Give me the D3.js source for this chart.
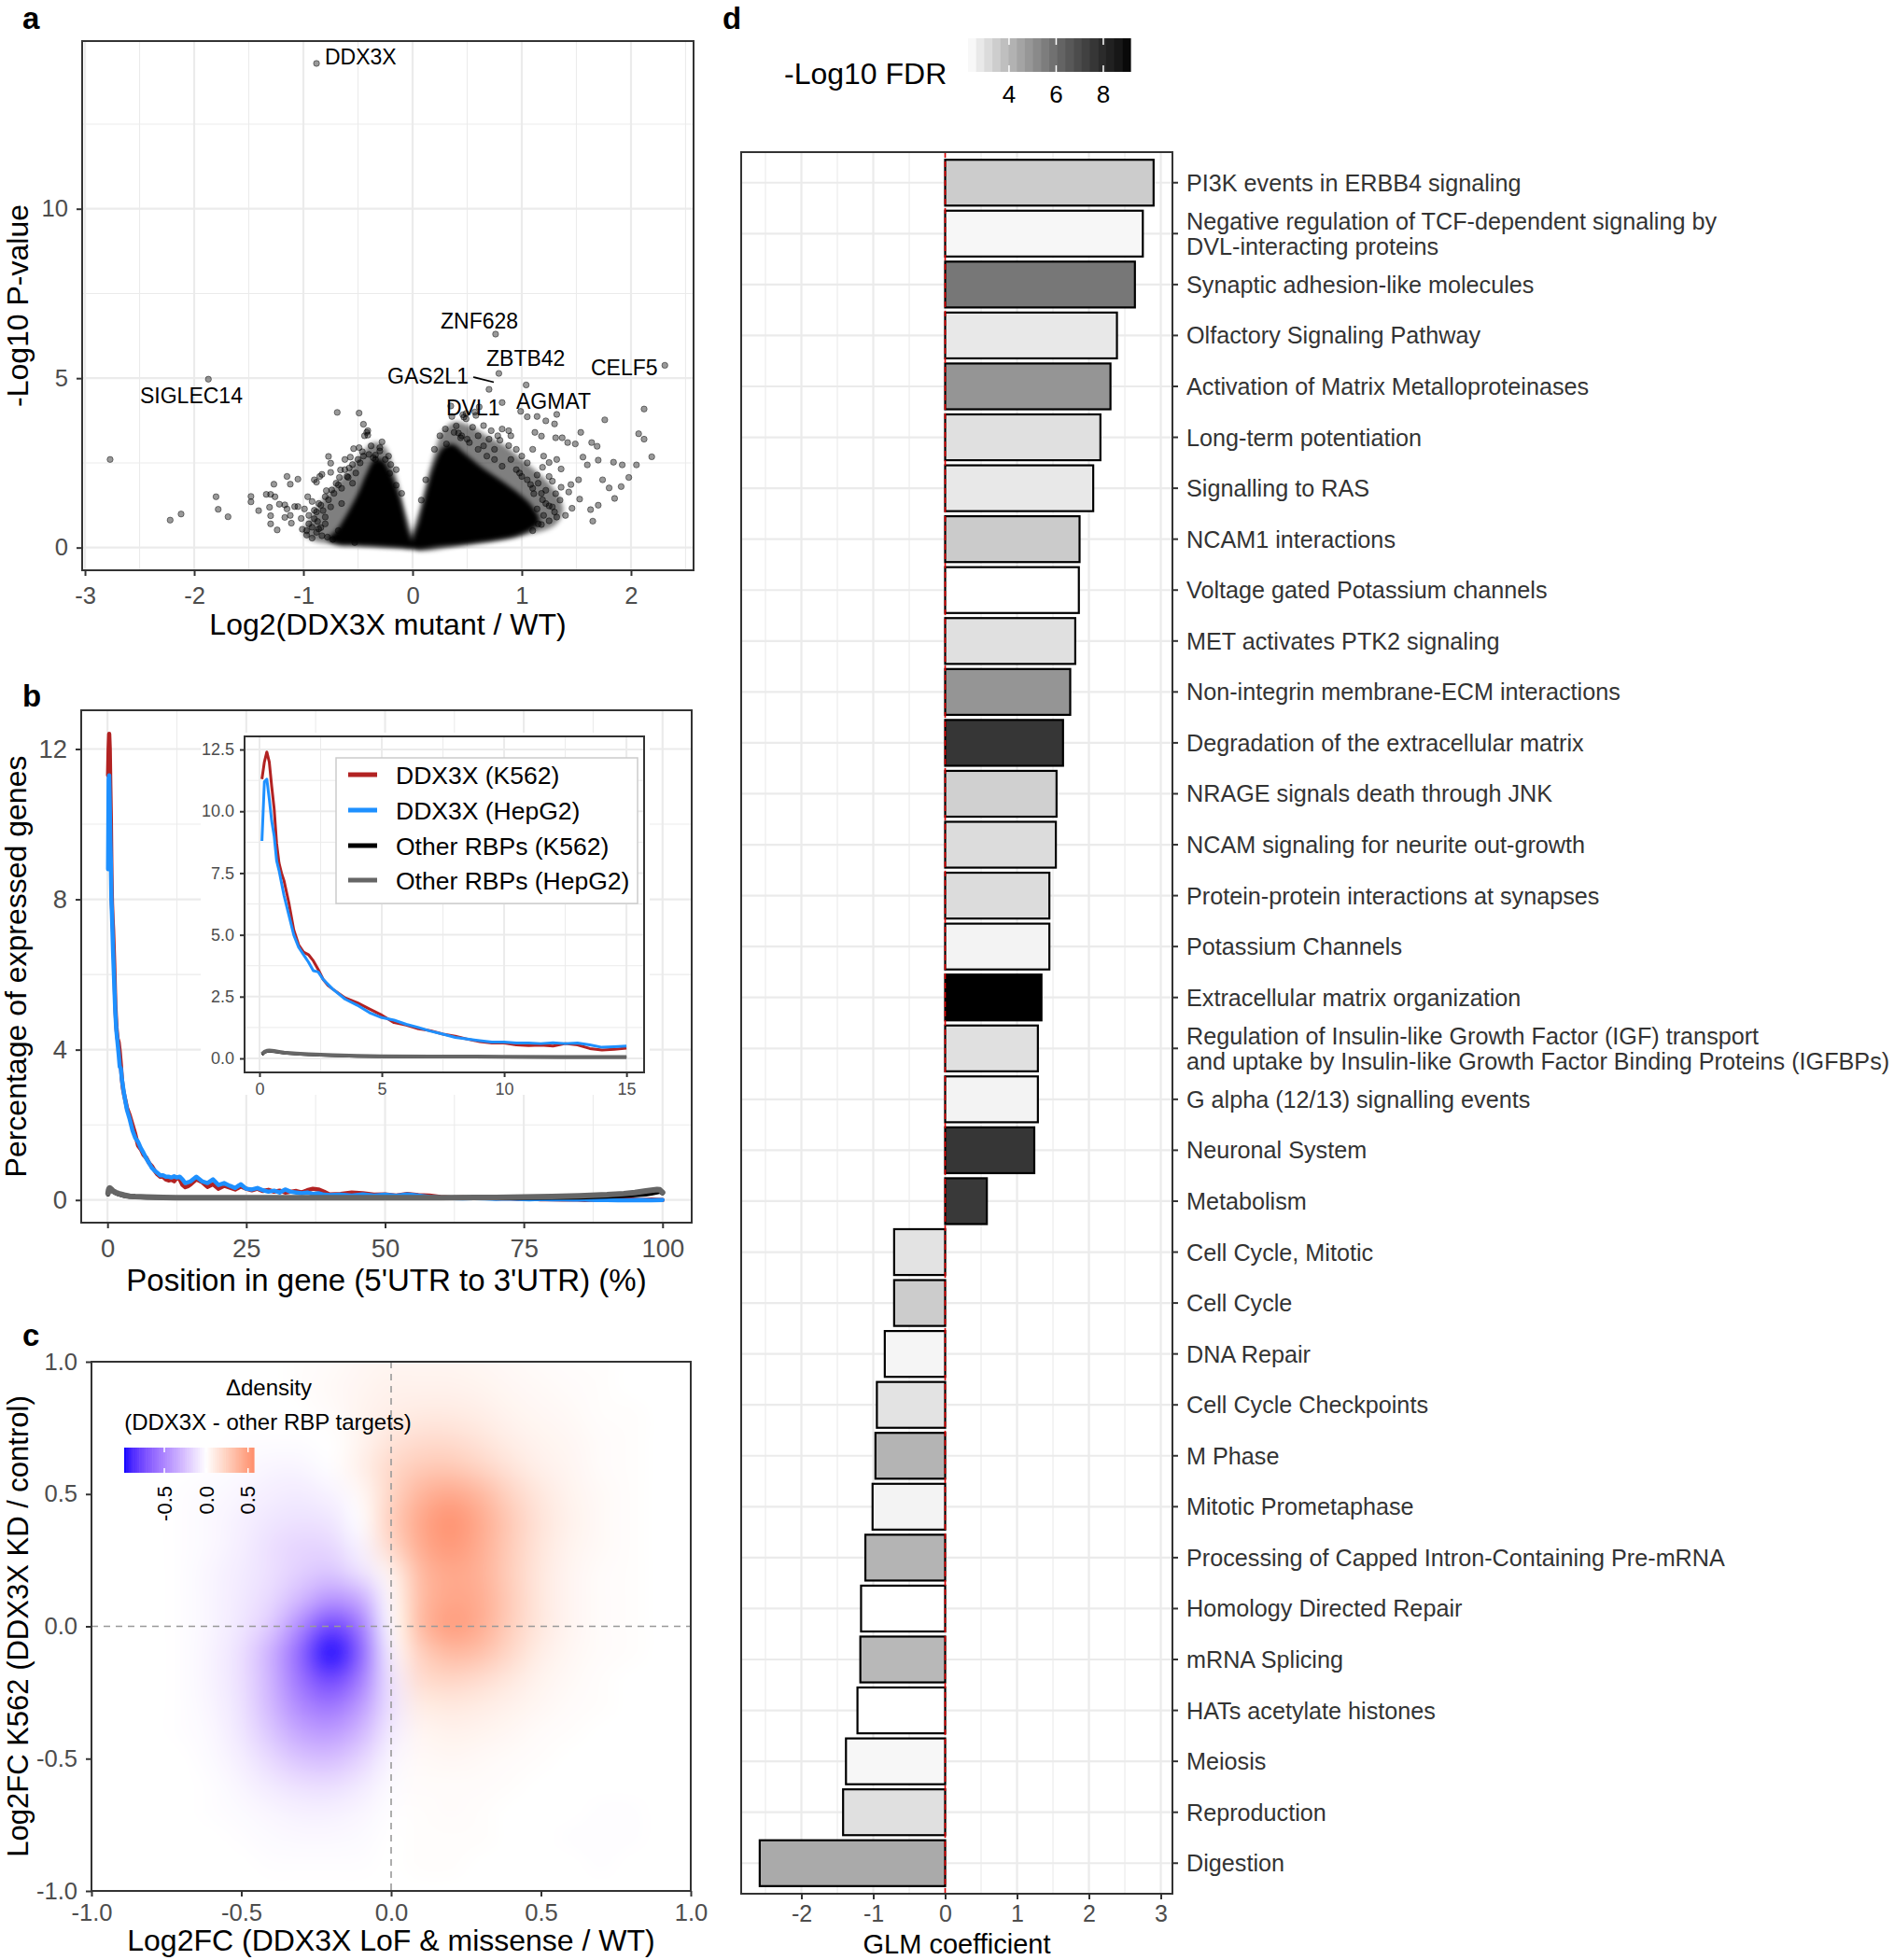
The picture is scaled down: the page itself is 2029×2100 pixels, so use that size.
<!DOCTYPE html>
<html><head><meta charset="utf-8">
<script src="https://cdn.jsdelivr.net/npm/d3@7/dist/d3.min.js"></script>
<style>
html,body{margin:0;padding:0;background:#fff;}
svg text{font-family:"Liberation Sans",Arial,Helvetica,sans-serif;}
</style></head><body>
<svg id="fig" width="2029" height="2100" xmlns="http://www.w3.org/2000/svg"></svg>
<script>
// ======================= DATA =======================
// ---- Panel a: volcano ----
const volcanoLabels = ["DDX3X","SIGLEC14","ZNF628","ZBTB42","GAS2L1","DVL1","AGMAT","CELF5"];
const volcanoLabelFC = [-0.88,-1.87,0.76,0.79,0.70,0.82,1.04,2.31];
const volcanoLabelP = [14.29,4.97,6.30,5.14,4.67,4.28,4.80,5.38];
const volcanoPoints = [
[-2.77,2.60],[-2.22,0.81],[-2.12,0.99],[-1.80,1.50],[-1.78,1.13],[-1.69,0.91],[-1.48,1.51],[-1.48,1.35],
[-1.41,1.09],[-1.34,1.57],[-1.30,1.57],[-1.26,1.50],[-1.27,1.87],[-1.31,1.19],[-1.30,0.94],[-1.30,0.70],
[-1.24,0.52],[-1.15,2.10],[-1.05,2.02],[-1.12,1.87],[-1.22,1.28],[-1.17,1.26],[-1.15,1.14],[-1.12,0.95],
[-1.17,0.89],[-1.11,0.72],[-1.08,1.21],[-1.05,1.21],[-1.02,0.86],[-1.01,0.54],[-0.99,1.14],[-0.96,1.50],
[-0.92,1.36],[-0.97,0.37],[-0.92,0.28],[-0.90,2.00],[-0.88,1.93],[-0.85,2.10],[-0.83,2.16],[-0.77,2.69],
[-0.75,2.49],[-0.75,2.22],[-0.69,3.99],[-0.49,3.97],[-0.45,3.64],[-0.44,3.30],[-0.42,3.40],[-0.41,3.32],
[-0.41,3.45],[-0.28,3.12],[-0.54,2.92],[-0.49,2.95],[-0.46,2.83],[-0.62,2.60],[-0.57,2.67],[-0.66,2.29],
[-0.67,2.07],[-0.59,2.07],[-0.79,1.68],[-0.77,1.41],[-0.82,1.09],[-0.87,0.77],[-0.84,0.59],[-0.78,0.31],
[-0.73,0.24],[-0.53,0.15],[-0.34,2.60],[-0.34,2.73],[-0.36,2.65],[-0.21,2.19],[-0.15,1.84],
[-0.95,0.95],[-0.90,1.10],[-0.86,1.30],[-0.80,0.90],[-0.75,1.20],[-0.72,1.60],[-0.70,1.90],[-0.65,1.75],
[-0.62,2.30],[-0.55,2.45],[-0.52,2.20],[-0.48,2.50],[-0.40,2.75],[-0.30,2.85],[-0.25,2.60],[-0.20,2.45],
[-0.92,0.60],[-0.88,0.45],[-0.83,0.35],[-0.68,0.50],
[-0.30,2.95],[-0.38,3.00],[-0.45,2.70],[-0.50,2.60],[-0.58,2.35],[-0.60,2.10],[-0.68,1.85],[-0.74,1.70],
[-0.80,1.50],[-0.84,1.25],[-0.88,1.05],[-0.90,0.85],[-0.95,0.70],[-0.97,0.50],[-0.86,0.55],[-0.80,0.70],
[-0.65,1.30],[-0.55,1.90],[-0.22,2.70],[-0.15,2.30],[-0.10,1.60],
[0.35,4.18],[0.47,3.85],[0.49,3.80],[0.46,3.92],[0.57,4.00],[0.58,3.90],[0.40,3.59],[0.42,3.38],
[0.44,3.24],[0.31,3.06],[0.99,4.02],[1.05,3.86],[1.14,3.87],[1.22,3.74],[1.30,3.65],[1.32,3.93],
[0.82,3.50],[0.88,3.45],[0.90,3.30],[0.80,3.17],[0.88,3.01],[1.12,3.40],[1.18,3.29],[1.31,3.24],
[1.37,3.24],[1.42,3.10],[1.49,3.06],[1.54,3.40],[1.64,3.10],[1.69,2.99],[1.76,3.77],[1.56,2.67],
[1.60,2.44],[1.70,2.58],[1.84,2.52],[1.92,2.44],[2.05,2.44],[1.98,2.07],[1.91,1.80],[1.80,1.76],
[1.74,2.00],[1.85,1.45],[1.65,0.78],[1.63,1.12],[1.70,1.25],[1.53,1.43],[1.46,1.16],[1.25,0.79],
[1.18,0.68],[2.12,4.09],[2.07,3.36],[2.12,3.20],[2.19,2.68],[1.32,2.60],[1.25,2.51],[1.19,2.37],
[1.14,2.14],[1.08,1.86],[1.11,1.59],[1.19,1.41],[1.25,1.23],[1.31,1.59],[1.36,1.78],[1.43,1.64],
[1.45,1.86],[1.52,2.00],[1.36,2.32],[1.28,1.96],[1.22,1.69],[1.14,1.14],[1.05,0.95],[0.99,0.86],
[0.36,3.87],[0.49,3.96],[0.61,4.15],
[0.50,3.20],[0.60,3.30],[0.65,3.00],[0.70,3.20],[0.75,2.90],[0.95,2.90],[1.00,2.70],[1.05,2.50],
[0.95,2.30],[1.00,2.10],[0.55,3.55],[0.65,3.60],[0.72,3.45],[0.78,3.30],[1.10,2.90],[1.20,2.70],
[1.15,1.90],[1.25,2.10],[1.35,1.40],[1.30,1.05],[1.40,0.95],[1.20,0.95],
[0.20,2.90],[0.25,3.30],[0.30,3.50],[0.38,3.40],[0.45,3.30],[0.52,3.10],[0.60,2.90],[0.68,2.70],
[0.75,2.60],[0.82,2.40],[0.90,2.60],[0.98,2.20],[1.05,2.00],[1.10,1.75],[1.18,1.60],[1.22,1.30],
[1.28,1.20],[1.32,0.90],[1.15,0.70],[1.10,0.50],[0.12,2.00],[0.08,1.40]
];
// dense (saturated) parts of the point cloud, read as outlines
const denseLeftCore = [[0,0],[-0.05,0.6],[-0.12,1.5],[-0.2,2.2],[-0.28,2.6],[-0.35,2.6],[-0.42,2.2],[-0.5,1.6],[-0.6,1.0],[-0.7,0.5],[-0.78,0.25],[-0.7,0.1],[-0.4,0.05],[-0.1,0.0]];
const denseLeftHalo = [[0,0],[-0.08,1.2],[-0.17,2.3],[-0.26,3.0],[-0.36,3.1],[-0.46,2.8],[-0.58,2.3],[-0.72,1.8],[-0.85,1.3],[-0.95,0.8],[-1.0,0.45],[-0.92,0.22],[-0.5,0.07],[-0.1,0]];
const denseRightCore = [[0,0],[0.06,0.8],[0.13,1.7],[0.2,2.45],[0.28,2.95],[0.37,3.05],[0.47,2.8],[0.62,2.4],[0.8,2.0],[0.97,1.6],[1.1,1.2],[1.16,0.75],[1.0,0.4],[0.6,0.15],[0.25,0.03]];
const denseRightHalo = [[0,0],[0.08,1.3],[0.18,2.6],[0.27,3.4],[0.38,3.7],[0.52,3.6],[0.68,3.3],[0.85,3.0],[1.0,2.6],[1.15,2.2],[1.3,1.7],[1.38,1.1],[1.3,0.65],[1.0,0.35],[0.5,0.1]];
const volcanoXTicks = [-3,-2,-1,0,1,2];
const volcanoYTicks = [0,5,10];

// ---- Panel b: metagene profiles ----
const posX = [0.1,0.2,0.3,0.4,0.5,0.6,0.7,0.8,0.9,1.0,1.2,1.4,1.6,1.8,2.0,2.2,2.4,2.6,2.8,3.0,
3.5,4.0,4.5,5.0,5.5,6.0,6.5,7.0,7.5,8.0,8.5,9.0,9.5,10,10.5,11,11.5,12,12.5,13,13.5,14,14.5,15,
16,17,18,19,20,21,22,23,24,25,26,27,28,29,30,31,32,33,34,35,36,37,38,39,40,
42,44,46,48,50,52,54,56,58,60,62,64,66,68,70,72,74,76,78,80,82,84,86,88,90,92,94,96,98,100];
const ddx3xK562 = [11.3,12.0,12.4,12.0,11.0,10.1,8.7,7.9,7.5,7.2,
6.3,5.2,4.6,4.3,4.2,3.95,3.6,3.2,2.95,2.8,
2.45,2.25,2.0,1.75,1.45,1.35,1.2,1.12,0.98,0.9,0.78,0.68,0.62,0.62,0.55,0.52,0.54,0.5,0.6,0.55,0.4,0.34,0.37,0.42,
0.55,0.48,0.35,0.42,0.3,0.38,0.33,0.28,0.36,0.3,0.26,0.3,0.24,0.27,0.22,0.25,0.2,0.22,0.24,0.2,0.26,0.3,0.28,0.22,0.15,
0.16,0.2,0.18,0.14,0.15,0.12,0.16,0.13,0.12,0.08,0.06,0.07,0.05,0.06,0.04,0.05,0.03,0.04,0.02,0.02,0.01,0.02,0.0,0.01,0.0,0.01,0.02,0.0,0.01,0.0];
const ddx3xHepG2 = [8.8,11.2,11.3,10.5,9.6,9.0,8.0,7.6,7.1,6.6,
5.8,5.0,4.5,4.2,3.9,3.55,3.5,3.2,3.0,2.8,
2.4,2.15,1.85,1.65,1.55,1.38,1.25,1.1,0.98,0.85,0.78,0.72,0.66,0.66,0.62,0.62,0.6,0.63,0.6,0.62,0.55,0.45,0.47,0.5,
0.62,0.5,0.45,0.55,0.4,0.45,0.38,0.32,0.42,0.3,0.28,0.32,0.26,0.22,0.25,0.2,0.28,0.22,0.2,0.18,0.2,0.16,0.18,0.14,0.13,
0.14,0.12,0.15,0.12,0.14,0.11,0.15,0.12,0.08,0.06,0.05,0.04,0.05,0.04,0.03,0.04,0.03,0.02,0.03,0.02,0.02,0.01,0.01,0.0,0.0,-0.01,-0.01,0.0,-0.01,0.0];
const rbpX = [0.1,0.2,0.3,0.4,0.6,0.8,1.0,1.5,2,3,4,5,7,10,12.5,15,20,30,40,50,60,70,80,85,90,93,95,97,98,99,99.5,100];
const otherK562 = [0.15,0.24,0.28,0.29,0.27,0.25,0.22,0.18,0.15,0.11,0.09,0.08,0.07,0.06,0.05,0.05,0.05,0.05,0.05,0.05,0.05,0.05,0.06,0.07,0.09,0.11,0.13,0.15,0.17,0.2,0.22,0.18];
const otherHepG2 = [0.18,0.27,0.31,0.32,0.3,0.27,0.24,0.2,0.17,0.13,0.1,0.09,0.08,0.07,0.06,0.06,0.06,0.06,0.06,0.06,0.06,0.07,0.09,0.11,0.14,0.17,0.2,0.24,0.26,0.28,0.27,0.2];
const profileNames = ["DDX3X (K562)","DDX3X (HepG2)","Other RBPs (K562)","Other RBPs (HepG2)"];
const profileColors = ["#b22222","#1e90ff","#000000","#666666"];
const profileXTicks = [0,25,50,75,100];
const profileYTicks = [0,4,8,12];
const insetXTicks = [0,5,10,15];
const insetYTicks = [0,2.5,5,7.5,10,12.5];

// ---- Panel c: delta density grid (rows top y=1.0 -> bottom y=-1.0) ----
const densX = [-1.0,-0.9,-0.8,-0.7,-0.6,-0.5,-0.4,-0.3,-0.2,-0.1,0.0,0.1,0.2,0.3,0.4,0.5,0.6,0.7,0.8,0.9,1.0];
const densY = [1.0,0.9,0.8,0.7,0.6,0.5,0.4,0.3,0.2,0.1,0.0,-0.1,-0.2,-0.3,-0.4,-0.5,-0.6,-0.7,-0.8,-0.9,-1.0];
const densDelta = [
[0,0,0,0,0,0,0,0.01,0.02,0.04,0.05,0.05,0.05,0.04,0.03,0.02,0.01,0.01,0,0,0],
[0,0,0,0,0,0,0,0.01,0.03,0.05,0.07,0.07,0.07,0.06,0.04,0.03,0.02,0.01,0,0,0],
[0,0,0,0,0,0,0,0,0.02,0.06,0.09,0.11,0.11,0.09,0.06,0.04,0.03,0.01,0.01,0,0],
[0,0,0,0,0,-0.01,-0.01,-0.01,0,0.06,0.14,0.18,0.18,0.14,0.09,0.06,0.04,0.02,0.01,0,0],
[0,0,0,0,-0.01,-0.02,-0.04,-0.04,-0.01,0.08,0.2,0.27,0.28,0.22,0.14,0.08,0.05,0.02,0.01,0,0],
[0,0,0,-0.01,-0.02,-0.04,-0.07,-0.08,-0.05,0.03,0.22,0.38,0.44,0.36,0.22,0.12,0.06,0.03,0.01,0,0],
[0,0,0,-0.01,-0.03,-0.06,-0.1,-0.12,-0.1,-0.01,0.25,0.45,0.55,0.43,0.27,0.14,0.07,0.03,0.01,0,0],
[0,0,0,-0.01,-0.03,-0.07,-0.13,-0.17,-0.16,-0.05,0.2,0.43,0.52,0.42,0.26,0.13,0.06,0.03,0.01,0,0],
[0,0,0,-0.01,-0.04,-0.08,-0.13,-0.2,-0.24,-0.12,0.06,0.36,0.45,0.4,0.25,0.12,0.05,0.02,0.01,0,0],
[0,0,0,-0.01,-0.04,-0.09,-0.16,-0.3,-0.45,-0.35,0.02,0.35,0.46,0.42,0.26,0.12,0.05,0.02,0.01,0,0],
[0,0,0,-0.01,-0.04,-0.1,-0.22,-0.5,-0.78,-0.55,0.0,0.36,0.5,0.42,0.25,0.12,0.05,0.02,0.01,0,0],
[0,0,0,-0.01,-0.05,-0.13,-0.33,-0.65,-0.96,-0.65,-0.05,0.25,0.36,0.32,0.2,0.09,0.04,0.02,0.01,0,0],
[0,0,0,-0.01,-0.05,-0.13,-0.32,-0.6,-0.78,-0.55,-0.1,0.18,0.22,0.18,0.12,0.06,0.03,0.01,0,0,0],
[0,0,0,-0.01,-0.04,-0.12,-0.3,-0.5,-0.58,-0.42,-0.12,0.1,0.12,0.1,0.07,0.04,0.02,0.01,0,0,0],
[0,0,0,-0.01,-0.03,-0.1,-0.24,-0.38,-0.42,-0.3,-0.08,0.05,0.07,0.06,0.04,0.02,0.01,0,0,0,0],
[0,0,0,0,-0.02,-0.07,-0.16,-0.25,-0.27,-0.18,-0.04,0.03,0.04,0.03,0.02,0.01,0,0,0,0,0],
[0,0,0,0,-0.01,-0.04,-0.09,-0.13,-0.14,-0.09,-0.02,0.02,0.02,0.02,0.01,0,0,0,0,0,0],
[0,0,0,0,-0.01,-0.02,-0.04,-0.06,-0.06,-0.04,-0.01,0.01,0.02,0.01,0,0,0,-0.01,-0.01,0,0],
[0,0,0,0,0,-0.01,-0.02,-0.03,-0.03,-0.02,0,0.01,0.01,0.01,0,0,-0.01,-0.01,-0.01,0,0],
[0,0,0,0,0,0,-0.01,-0.01,-0.01,-0.01,0,0.01,0.01,0,0,0,0,-0.01,0,0,0],
[0,0,0,0,0,0,0,0,0,0,0,0,0,0,0,0,0,0,0,0,0]
];
const densRange = [-0.98,0.57];
const densTicks = [-1.0,-0.5,0.0,0.5,1.0];
const densLegendTicks = [-0.5,0.0,0.5];

// ---- Panel d: pathway GLM ----
const pathways = ["PI3K events in ERBB4 signaling",
"Negative regulation of TCF-dependent signaling by\nDVL-interacting proteins",
"Synaptic adhesion-like molecules","Olfactory Signaling Pathway","Activation of Matrix Metalloproteinases",
"Long-term potentiation","Signalling to RAS","NCAM1 interactions","Voltage gated Potassium channels",
"MET activates PTK2 signaling","Non-integrin membrane-ECM interactions","Degradation of the extracellular matrix",
"NRAGE signals death through JNK","NCAM signaling for neurite out-growth","Protein-protein interactions at synapses",
"Potassium Channels","Extracellular matrix organization",
"Regulation of Insulin-like Growth Factor (IGF) transport\nand uptake by Insulin-like Growth Factor Binding Proteins (IGFBPs)",
"G alpha (12/13) signalling events","Neuronal System","Metabolism","Cell Cycle, Mitotic","Cell Cycle","DNA Repair",
"Cell Cycle Checkpoints","M Phase","Mitotic Prometaphase","Processing of Capped Intron-Containing Pre-mRNA",
"Homology Directed Repair","mRNA Splicing","HATs acetylate histones","Meiosis","Reproduction","Digestion"];
const glmCoef = [2.90,2.75,2.64,2.39,2.30,2.16,2.06,1.87,1.86,1.81,1.74,1.64,1.55,1.54,1.45,1.45,1.34,1.29,1.29,1.24,0.58,
-0.71,-0.71,-0.84,-0.95,-0.97,-1.01,-1.11,-1.17,-1.18,-1.22,-1.38,-1.42,-2.58];
const negLog10FDR = [3.50,2.45,5.71,2.81,4.90,3.00,2.81,3.52,2.26,3.00,4.90,7.59,3.40,3.10,3.10,2.55,9.15,3.00,2.55,7.59,7.50,
2.93,3.50,2.50,2.93,4.10,2.55,4.10,2.26,4.00,2.26,2.45,3.00,4.36];
const glmTicks = [-2,-1,0,1,2,3];
const fdrTicks = [4,6,8];

// ======================= DRAWING =======================
const svg = d3.select("#fig");
const GRID = "#ebebeb", BORDER = "#333333", TICKTXT = "#4d4d4d";

function styleAxis(g, fs, col){
  g.select(".domain").remove();
  g.selectAll(".tick line").attr("stroke", BORDER).attr("stroke-width", 2);
  g.selectAll(".tick text").attr("fill", col || TICKTXT).style("font-size", fs + "px")
    .style("font-family", '"Liberation Sans",Arial,sans-serif');
}
function frame(g, P){ g.append("rect").attr("x",P.l).attr("y",P.t).attr("width",P.r-P.l).attr("height",P.b-P.t)
  .attr("fill","none").attr("stroke",BORDER).attr("stroke-width",2); }
function vgrid(g, sc, vals, P, w){ g.selectAll(null).data(vals).enter().append("line")
  .attr("x1",d=>sc(d)).attr("x2",d=>sc(d)).attr("y1",P.t).attr("y2",P.b).attr("stroke",GRID).attr("stroke-width",w); }
function hgrid(g, sc, vals, P, w){ g.selectAll(null).data(vals).enter().append("line")
  .attr("y1",d=>sc(d)).attr("y2",d=>sc(d)).attr("x1",P.l).attr("x2",P.r).attr("stroke",GRID).attr("stroke-width",w); }
function panelLabel(t,x,y){ svg.append("text").attr("x",x).attr("y",y).text(t).style("font-size","33px").style("font-weight","bold"); }
const defs = svg.append("defs");
defs.append("filter").attr("id","softA").attr("x","-10%").attr("y","-10%").attr("width","120%").attr("height","120%")
  .append("feGaussianBlur").attr("stdDeviation",2.5);

// ---------- Panel a ----------
(function(){
  const P = {l:88, r:743, t:44, b:611};
  const x = d3.scaleLinear().domain([-3.026, 2.573]).range([P.l, P.r]);
  const y = d3.scaleLinear().domain([-0.67, 14.95]).range([P.b, P.t]);
  const g = svg.append("g");
  vgrid(g, x, [-2.5,-1.5,-0.5,0.5,1.5,2.5], P, 1.1);
  hgrid(g, y, [2.5,7.5,12.5], P, 1.1);
  vgrid(g, x, volcanoXTicks, P, 2.2);
  hgrid(g, y, volcanoYTicks, P, 2.2);
  const cg = g.append("g");
  const area = d3.line().x(d=>x(d[0])).y(d=>y(d[1])).curve(d3.curveCatmullRomClosed);
  const soft = cg.append("g").attr("filter","url(#softA)");
  [denseLeftHalo, denseRightHalo].forEach(h => soft.append("path").attr("d", area(h)).attr("fill","#000").attr("opacity",0.5));
  const pts = volcanoPoints.concat(volcanoLabelFC.map((v,i)=>[v, volcanoLabelP[i]]));
  cg.selectAll("circle").data(pts).enter().append("circle")
    .attr("cx",d=>x(d[0])).attr("cy",d=>y(d[1])).attr("r",3.2)
    .attr("fill","#000").attr("fill-opacity",0.4).attr("stroke","#000").attr("stroke-opacity",0.45).attr("stroke-width",1);
  const soft2 = cg.append("g").attr("filter","url(#softA)");
  [denseLeftCore, denseRightCore].forEach(h => soft2.append("path").attr("d", area(h)).attr("fill","#000"));
  // labels (positions are layout)
  const labelPos = [[348,69],[150,432],[472,352],[521,392],[415,411],[478,445],[553,438],[633,402]];
  volcanoLabels.forEach((t,i)=> g.append("text").attr("x",labelPos[i][0]).attr("y",labelPos[i][1]).text(t).style("font-size","23px").attr("fill","#000"));
  g.append("line").attr("x1",507).attr("y1",404).attr("x2",529).attr("y2",409.5).attr("stroke","#000").attr("stroke-width",1.8);
  frame(g, P);
  const ax = g.append("g").attr("transform",`translate(0,${P.b})`).call(d3.axisBottom(x).tickValues(volcanoXTicks).tickFormat(d=>String(d)).tickSize(6).tickPadding(12));
  styleAxis(ax, 25.6);
  const ay = g.append("g").attr("transform",`translate(${P.l},0)`).call(d3.axisLeft(y).tickValues(volcanoYTicks).tickFormat(d=>String(d)).tickSize(6).tickPadding(9));
  styleAxis(ay, 25.6);
  g.append("text").attr("x",(P.l+P.r)/2).attr("y",680).attr("text-anchor","middle").text("Log2(DDX3X mutant / WT)").style("font-size","32px");
  g.append("text").attr("transform",`translate(30,${(P.t+P.b)/2}) rotate(-90)`).attr("text-anchor","middle").text("-Log10 P-value").style("font-size","32px");
  panelLabel("a", 24, 31);
})();

// ---------- Panel b ----------
(function(){
  const P = {l:87, r:741, t:761, b:1310};
  const x = d3.scaleLinear().domain([-4.74, 105.25]).range([P.l, P.r]);
  const y = d3.scaleLinear().domain([-0.603, 13.03]).range([P.b, P.t]);
  const g = svg.append("g");
  vgrid(g, x, [12.5,37.5,62.5,87.5], P, 1.1);
  hgrid(g, y, [2,6,10], P, 1.1);
  vgrid(g, x, profileXTicks, P, 2.2);
  hgrid(g, y, profileYTicks, P, 2.2);
  svg.append("clipPath").attr("id","clipB").append("rect").attr("x",P.l).attr("y",P.t).attr("width",P.r-P.l).attr("height",P.b-P.t);
  const lg = g.append("g").attr("clip-path","url(#clipB)");
  const series = [ [posX, ddx3xK562], [posX, ddx3xHepG2], [rbpX, otherK562], [rbpX, otherHepG2] ];
  const widths = [4.5, 4.5, 4.5, 6];
  series.forEach((s,i)=>{
    const line = d3.line().x((d,j)=>x(s[0][j])).y(d=>y(d));
    lg.append("path").attr("d", line(s[1])).attr("fill","none").attr("stroke",profileColors[i])
      .attr("stroke-width",widths[i]).attr("stroke-linejoin","round").attr("stroke-linecap","round");
  });
  frame(g, P);
  const ax = g.append("g").attr("transform",`translate(0,${P.b})`).call(d3.axisBottom(x).tickValues(profileXTicks).tickFormat(d=>String(d)).tickSize(6).tickPadding(12));
  styleAxis(ax, 27.4);
  const ay = g.append("g").attr("transform",`translate(${P.l},0)`).call(d3.axisLeft(y).tickValues(profileYTicks).tickFormat(d=>String(d)).tickSize(6).tickPadding(9));
  styleAxis(ay, 27.4);
  g.append("text").attr("x",(P.l+P.r)/2).attr("y",1383).attr("text-anchor","middle").text("Position in gene (5'UTR to 3'UTR) (%)").style("font-size","33px");
  g.append("text").attr("transform",`translate(28,${(P.t+P.b)/2}) rotate(-90)`).attr("text-anchor","middle").text("Percentage of expressed genes").style("font-size","32px");

  // inset
  const Q = {l:262, r:690, t:789, b:1149};
  g.append("rect").attr("x",215).attr("y",785).attr("width",481).attr("height",388).attr("fill","#fff");
  const ix = d3.scaleLinear().domain([-0.61, 15.72]).range([Q.l, Q.r]);
  const iy = d3.scaleLinear().domain([-0.566, 13.03]).range([Q.b, Q.t]);
  vgrid(g, ix, [2.5,7.5,12.5], Q, 1);
  hgrid(g, iy, [1.25,3.75,6.25,8.75,11.25], Q, 1);
  vgrid(g, ix, insetXTicks, Q, 2);
  hgrid(g, iy, insetYTicks, Q, 2);
  svg.append("clipPath").attr("id","clipI").append("rect").attr("x",Q.l).attr("y",Q.t).attr("width",Q.r-Q.l).attr("height",Q.b-Q.t);
  const ig = g.append("g").attr("clip-path","url(#clipI)");
  const iw = [3, 3, 3, 4];
  series.forEach((s,i)=>{
    const idx = s[0].map((v,j)=>j).filter(j=>s[0][j] <= 15);
    const line = d3.line().x(j=>ix(s[0][j])).y(j=>iy(s[1][j]));
    ig.append("path").attr("d", line(idx)).attr("fill","none").attr("stroke",profileColors[i])
      .attr("stroke-width",iw[i]).attr("stroke-linejoin","round");
  });
  frame(g, Q);
  const iax = g.append("g").attr("transform",`translate(0,${Q.b})`).call(d3.axisBottom(ix).tickValues(insetXTicks).tickFormat(d=>String(d)).tickSize(5).tickPadding(6));
  styleAxis(iax, 18);
  const iay = g.append("g").attr("transform",`translate(${Q.l},0)`).call(d3.axisLeft(iy).tickValues(insetYTicks).tickFormat(d=>d.toFixed(1)).tickSize(5).tickPadding(6));
  styleAxis(iay, 18);
  // legend
  const L = g.append("g");
  L.append("rect").attr("x",360).attr("y",812).attr("width",323).attr("height",156).attr("fill","#fff").attr("stroke","#cccccc").attr("stroke-width",1.5);
  const rowsY = [830, 868, 906, 943];
  profileNames.forEach((n,i)=>{
    L.append("line").attr("x1",373).attr("x2",404).attr("y1",rowsY[i]).attr("y2",rowsY[i]).attr("stroke",profileColors[i]).attr("stroke-width",5);
    L.append("text").attr("x",424).attr("y",rowsY[i]+9.5).text(n).style("font-size","26.5px").attr("fill","#000");
  });
  panelLabel("b", 24, 757);
})();

// ---------- Panel c ----------
(function(){
  const P = {l:98, r:740, t:1459, b:2026};
  const x = d3.scaleLinear().domain([-1,1]).range([P.l, P.r]);
  const y = d3.scaleLinear().domain([-1,1]).range([P.b, P.t]);
  const vmax = Math.max(Math.abs(densRange[0]), Math.abs(densRange[1]));
  const col = v => v < 0 ? d3.interpolateLab("#ffffff","#0000ff")(Math.min(1,-v/vmax))
                         : d3.interpolateLab("#ffffff","#ff0000")(Math.min(1, v/vmax));
  const nx = densX.length, ny = densY.length;
  const small = document.createElement("canvas"); small.width = nx; small.height = ny;
  const sctx = small.getContext("2d");
  const im = sctx.createImageData(nx, ny);
  densDelta.forEach((row,r)=>row.forEach((v,c)=>{
    const cc = d3.rgb(col(v)); const k = (r*nx+c)*4;
    im.data[k]=cc.r; im.data[k+1]=cc.g; im.data[k+2]=cc.b; im.data[k+3]=255; }));
  sctx.putImageData(im,0,0);
  const cw = (x(densX[1]) - x(densX[0])), ch = (y(densY[1]) - y(densY[0]));
  const W = Math.round(cw*nx), H = Math.round(ch*ny);
  const big = document.createElement("canvas"); big.width = W; big.height = H;
  const bctx = big.getContext("2d"); bctx.imageSmoothingEnabled = true; bctx.imageSmoothingQuality = "high";
  bctx.drawImage(small, 0, 0, W, H);
  defs.append("clipPath").attr("id","clipC").append("rect").attr("x",P.l).attr("y",P.t).attr("width",P.r-P.l).attr("height",P.b-P.t);
  defs.append("filter").attr("id","blurC").attr("x","-10%").attr("y","-10%").attr("width","120%").attr("height","120%")
    .append("feGaussianBlur").attr("stdDeviation",6);
  const g = svg.append("g");
  g.append("g").attr("clip-path","url(#clipC)").append("image")
    .attr("href", big.toDataURL()).attr("x", x(densX[0]) - cw/2).attr("y", y(densY[0]) - ch/2)
    .attr("width", W).attr("height", H).attr("preserveAspectRatio","none").attr("filter","url(#blurC)");
  g.append("line").attr("x1",x(0)).attr("x2",x(0)).attr("y1",P.t).attr("y2",P.b).attr("stroke","#999").attr("stroke-width",1.6).attr("stroke-dasharray","7,6");
  g.append("line").attr("y1",y(0)).attr("y2",y(0)).attr("x1",P.l).attr("x2",P.r).attr("stroke","#999").attr("stroke-width",1.6).attr("stroke-dasharray","7,6");
  // legend
  g.append("text").attr("x",288).attr("y",1495).attr("text-anchor","middle").text("\u0394density").style("font-size","24px");
  g.append("text").attr("x",287).attr("y",1532).attr("text-anchor","middle").text("(DDX3X - other RBP targets)").style("font-size","24px");
  const lx = d3.scaleLinear().domain(densRange).range([133, 272]);
  const nb = 60, bw = (272-133)/nb;
  d3.range(nb).forEach(i=>{
    const v = densRange[0] + (i+0.5)*(densRange[1]-densRange[0])/nb;
    g.append("rect").attr("x",133+i*bw).attr("y",1551).attr("width",bw+0.6).attr("height",27).attr("fill",col(v));
  });
  densLegendTicks.forEach(t=>{
    g.append("line").attr("x1",lx(t)).attr("x2",lx(t)).attr("y1",1551).attr("y2",1556).attr("stroke","#fff").attr("stroke-width",1.5);
    g.append("line").attr("x1",lx(t)).attr("x2",lx(t)).attr("y1",1573).attr("y2",1578).attr("stroke","#fff").attr("stroke-width",1.5);
    g.append("text").attr("transform",`translate(${lx(t)},1592) rotate(-90)`).attr("text-anchor","end").attr("dy","0.35em")
      .text(t.toFixed(1)).style("font-size","22px").attr("fill","#000");
  });
  frame(g, P);
  const ax = g.append("g").attr("transform",`translate(0,${P.b})`).call(d3.axisBottom(x).tickValues(densTicks).tickFormat(d=>d.toFixed(1)).tickSize(6).tickPadding(8));
  styleAxis(ax, 25.6);
  const ay = g.append("g").attr("transform",`translate(${P.l},0)`).call(d3.axisLeft(y).tickValues(densTicks).tickFormat(d=>d.toFixed(1)).tickSize(6).tickPadding(9));
  styleAxis(ay, 25.6);
  g.append("text").attr("x",(P.l+P.r)/2).attr("y",2090).attr("text-anchor","middle").text("Log2FC (DDX3X LoF & missense / WT)").style("font-size","32px");
  g.append("text").attr("transform",`translate(30,${(P.t+P.b)/2}) rotate(-90)`).attr("text-anchor","middle").text("Log2FC K562 (DDX3X KD / control)").style("font-size","31px");
  panelLabel("c", 24, 1442);
})();

// ---------- Panel d ----------
(function(){
  const P = {l:794, r:1256, t:163, b:2029};
  const x = d3.scaleLinear().domain([-2.838, 3.162]).range([P.l, P.r]);
  const y = d3.scalePoint().domain(d3.range(pathways.length)).range([P.t, P.b]).padding(0.6);
  const bh = y.step()*0.9;
  const fdrExtent = d3.extent(negLog10FDR);
  const fill = d3.scaleLinear().domain(fdrExtent).range(["#ffffff","#000000"]).interpolate(d3.interpolateLab);
  const g = svg.append("g");
  vgrid(g, x, [-2.5,-1.5,-0.5,0.5,1.5,2.5], P, 1.1);
  vgrid(g, x, glmTicks, P, 2.2);
  hgrid(g, i=>y(i), d3.range(pathways.length), P, 2.2);
  g.selectAll("rect.bar").data(glmCoef).enter().append("rect").attr("class","bar")
    .attr("x",d=>x(Math.min(0,d))).attr("width",d=>Math.abs(x(d)-x(0)))
    .attr("y",(d,i)=>y(i)-bh/2).attr("height",bh)
    .attr("fill",(d,i)=>fill(negLog10FDR[i])).attr("stroke","#000").attr("stroke-width",2.2);
  g.append("line").attr("x1",x(0)).attr("x2",x(0)).attr("y1",P.t).attr("y2",P.b).attr("stroke","#e00000").attr("stroke-width",1.6).attr("stroke-dasharray","6,4");
  frame(g, P);
  const ax = g.append("g").attr("transform",`translate(0,${P.b})`).call(d3.axisBottom(x).tickValues(glmTicks).tickFormat(d=>String(d)).tickSize(6).tickPadding(6));
  styleAxis(ax, 25);
  const ry = g.append("g");
  pathways.forEach((lab,i)=>{
    ry.append("line").attr("x1",P.r).attr("x2",P.r+6).attr("y1",y(i)).attr("y2",y(i)).attr("stroke",BORDER).attr("stroke-width",2);
    const lines = lab.split("\n");
    const t = ry.append("text").attr("x",P.r+15).style("font-size","25.2px").attr("fill","#333");
    lines.forEach((ln,k)=> t.append("tspan").attr("x",P.r+15).attr("y", y(i) + 9 + (k-(lines.length-1)/2)*27.5).text(ln));
  });
  g.append("text").attr("x",(P.l+P.r)/2).attr("y",2093).attr("text-anchor","middle").text("GLM coefficient").style("font-size","29px");
  // legend
  g.append("text").attr("x",840).attr("y",90).text("-Log10 FDR").style("font-size","32px");
  const lx = d3.scaleLinear().domain(fdrExtent).range([1037, 1211]);
  const nb = 20, bw = (1211-1037)/nb;
  d3.range(nb).forEach(i=>{
    const v = fdrExtent[0] + (i+0.5)*(fdrExtent[1]-fdrExtent[0])/nb;
    g.append("rect").attr("x",1037+i*bw).attr("y",41).attr("width",bw+0.6).attr("height",36).attr("fill",fill(v));
  });
  fdrTicks.forEach(t=>{
    g.append("line").attr("x1",lx(t)).attr("x2",lx(t)).attr("y1",41).attr("y2",48).attr("stroke","#fff").attr("stroke-width",1.5);
    g.append("line").attr("x1",lx(t)).attr("x2",lx(t)).attr("y1",70).attr("y2",77).attr("stroke","#fff").attr("stroke-width",1.5);
    g.append("text").attr("x",lx(t)).attr("y",110).attr("text-anchor","middle").text(String(t)).style("font-size","26px").attr("fill","#000");
  });
  panelLabel("d", 774, 31);
})();
</script></body></html>
